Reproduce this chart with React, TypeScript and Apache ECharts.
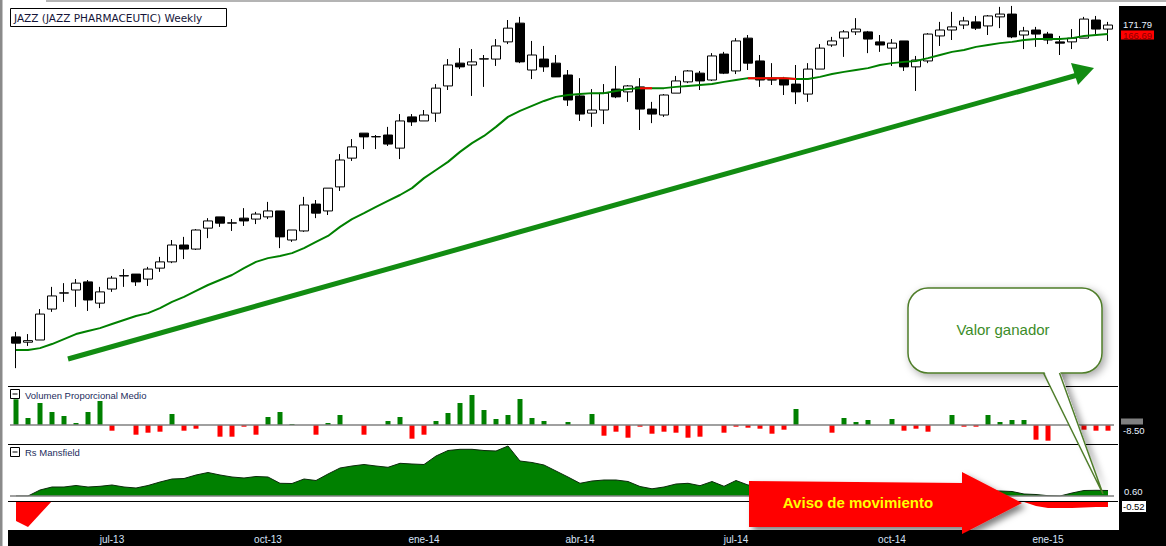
import { useEffect, useRef } from 'react';
import * as echarts from 'echarts';

// weekly bars, first one in the week of 6 May 2013
const firstWeek = new Date(2013, 4, 6);
const weeks: string[] = [];
for (let i = 0; i < 92; i++) {
    const d = new Date(firstWeek.getTime() + i * 7 * 86400000);
    weeks.push(d.toISOString().slice(0, 10));
}

const tickIndex = [8, 21, 34, 47, 60, 73, 86];
const tickLabels = ['jul-13', 'oct-13', 'ene-14', 'abr-14', 'jul-14', 'oct-14', 'ene-15'];

// [open, close, low, high]
const priceBars = [
    [72.0, 70.0, 62.0, 73.6], [70.3, 70.8, 69.1, 72.9], [71.0, 79.3, 71.0, 80.9], [80.9, 85.1, 80.0, 88.0],
    [86.0, 86.1, 83.2, 89.2], [87.0, 89.2, 81.6, 90.5], [89.6, 83.8, 80.3, 90.2], [82.8, 86.4, 81.2, 88.0],
    [87.3, 90.8, 86.4, 91.5], [91.5, 91.6, 88.0, 93.7], [92.1, 89.6, 88.3, 92.1], [90.5, 93.7, 88.3, 94.4],
    [94.0, 96.0, 92.8, 97.6], [96.0, 101.4, 95.6, 103.0], [101.4, 100.1, 96.9, 104.0], [100.1, 106.2, 99.8, 106.5],
    [106.8, 109.1, 103.6, 110.0], [110.4, 108.4, 107.2, 110.4], [108.4, 108.5, 105.9, 109.7], [110.0, 109.1, 107.5, 113.2],
    [109.7, 111.3, 108.1, 112.0], [110.4, 112.3, 109.7, 115.2], [112.3, 104.0, 100.4, 112.3], [103.0, 106.2, 102.4, 106.2],
    [105.9, 114.2, 105.6, 116.8], [114.5, 111.6, 110.0, 115.8], [112.3, 119.6, 111.0, 119.6], [120.0, 128.6, 118.7, 130.5],
    [129.2, 132.8, 128.3, 135.3], [137.2, 136.0, 132.1, 137.2], [136.0, 136.1, 132.1, 136.6], [136.6, 133.7, 133.1, 139.2],
    [132.4, 141.1, 128.9, 143.3], [142.4, 140.8, 139.5, 143.3], [141.1, 143.0, 141.1, 144.6], [143.6, 151.6, 140.8, 152.9],
    [152.3, 159.0, 151.0, 160.9], [159.6, 158.4, 157.7, 164.4], [159.0, 160.0, 149.1, 164.1], [160.9, 161.0, 152.0, 162.2],
    [160.9, 165.1, 158.7, 167.3], [166.4, 170.8, 165.7, 173.4], [172.4, 160.0, 159.6, 174.4], [157.4, 162.2, 154.5, 166.7],
    [160.9, 158.4, 156.8, 165.1], [159.6, 155.2, 155.2, 162.2], [155.8, 147.8, 145.9, 157.4], [149.1, 143.3, 141.1, 154.8],
    [143.6, 144.6, 139.2, 151.3], [144.6, 150.0, 140.1, 152.9], [151.3, 148.8, 148.4, 158.7], [150.4, 152.3, 147.2, 152.6],
    [152.0, 144.9, 138.2, 154.8], [144.9, 143.3, 140.4, 147.2], [143.0, 149.4, 142.4, 149.7], [150.0, 153.9, 150.0, 155.5],
    [153.6, 157.1, 153.2, 157.4], [156.4, 153.9, 151.0, 157.1], [154.2, 161.9, 153.9, 162.8], [162.5, 156.4, 156.1, 163.2],
    [157.1, 166.7, 156.1, 167.6], [167.6, 159.6, 157.4, 168.6], [160.3, 154.2, 152.0, 162.2], [154.2, 154.3, 152.6, 159.6],
    [154.5, 152.6, 149.4, 155.2], [152.9, 150.4, 146.5, 159.0], [149.7, 157.7, 147.2, 159.6], [157.7, 164.4, 157.7, 165.7],
    [165.4, 166.7, 164.8, 168.0], [167.6, 169.6, 161.6, 170.2], [169.6, 170.5, 168.6, 174.0], [169.6, 167.3, 162.8, 169.9],
    [166.4, 165.4, 163.2, 168.6], [164.4, 166.0, 158.7, 167.3], [166.7, 158.4, 157.1, 166.7], [158.4, 160.6, 150.7, 161.9],
    [160.3, 168.9, 159.6, 169.2], [168.3, 170.2, 165.1, 172.8], [170.2, 171.2, 167.0, 176.0], [171.8, 173.1, 170.5, 174.4],
    [172.8, 170.8, 170.2, 174.7], [171.5, 174.7, 168.6, 175.0], [174.4, 175.3, 170.8, 177.6], [175.3, 168.0, 167.6, 177.9],
    [168.6, 169.9, 164.1, 171.2], [170.2, 168.9, 164.8, 171.2], [168.9, 167.0, 165.7, 169.6], [166.4, 166.0, 162.2, 168.3],
    [166.4, 167.6, 164.1, 170.5], [167.6, 173.7, 167.6, 174.4], [173.4, 170.5, 168.9, 174.7], [170.5, 171.79, 166.7, 172.8],
];

// moving average drawn over the candles
const movingAvg = [
    67.8, 67.8, 68.4, 69.7, 71.3, 72.9, 73.9, 74.8, 76.1, 77.4, 78.7, 79.6, 81.2, 83.2, 84.8, 86.7,
    88.6, 90.2, 91.8, 94.0, 96.0, 97.2, 97.9, 98.8, 100.4, 102.4, 104.3, 107.2, 109.7, 111.6, 113.6, 115.5,
    117.4, 119.6, 122.8, 125.4, 128.0, 131.2, 134.0, 136.3, 139.2, 142.4, 144.3, 145.9, 147.5, 148.8, 149.4, 149.7,
    150.0, 150.0, 150.7, 151.3, 151.6, 151.6, 151.6, 152.0, 152.3, 152.6, 152.9, 153.6, 154.2, 154.8, 154.8, 154.8,
    154.8, 154.5, 154.5, 155.2, 156.1, 156.8, 157.4, 158.0, 159.0, 159.6, 160.0, 160.3, 161.2, 162.2, 163.2, 163.8,
    164.8, 165.4, 166.0, 166.4, 167.0, 167.3, 167.3, 167.3, 167.6, 168.3, 168.6, 168.9,
];
// weeks where the average is painted red
const maRedWeeks = [52, 53, 61, 62, 63, 64, 65];

const volumeRatio = [
    25.7, 7, 22, 13, 9, 2, 13, 24, -5.7, 0, -9.7, -7.7, -6.7, 11, -5.7, -3.7,
    0, -11.7, -11.7, -1.7, -9.7, 8, 13, 1, 0, -9.7, 2, 10, 0, -9.7, 0, 4,
    8, -13.7, -9.7, 4, 12, 22, 30, 15, 6, 10, 26, 7, 4, 0, 3, 0,
    11, -10.7, -6.7, -12.7, -1.7, -8.7, -6.7, -7.7, -12.7, -11.7, 0, -7.7, -1.7, -2.7, -3.7, -8.7,
    -4.7, 16, 0, 0, -7.7, 7, 3, 5, 0, 6, -5.7, -3.7, -6.7, 0, 10, -1.7,
    -1.7, 10, 3, 5, 5, -14.7, -15.7, 0, 0, -4.7, -5.7, -5.7,
];

const rsPositive = [
    0, 0, 0.6, 0.9, 0.9, 1.05, 0.9, 0.97, 1.1, 0.9, 0.8, 1.05, 1.4, 1.7, 1.75, 2.1,
    2.35, 2.1, 1.9, 1.8, 1.95, 1.9, 1.27, 1.25, 1.7, 1.55, 2.2, 2.8, 3.0, 3.15, 3.0, 2.87,
    3.27, 3.2, 3.15, 4.0, 4.55, 4.67, 4.67, 4.55, 4.5, 5.0, 3.5, 3.35, 3.1, 2.5, 1.9, 1.27,
    1.5, 1.6, 1.6, 1.45, 0.95, 0.72, 0.9, 1.2, 1.27, 1.03, 1.45, 0.97, 1.55, 1.1, 1.0, 0.9,
    0.8, 0.9, 1.0, 1.1, 1.0, 0.9, 0.8, 0.8, 0.9, 0.8, 0.7, 0.7, 0.6, 0.6, 0.5, 0.5,
    0.5, 0.5, 0.5, 0.45, 0.2, 0.15, 0.03, 0, 0.3, 0.55, 0.57, 0.55,
];

const rsNegative = [
    -2.0, -2.6, -1.3, 0, 0, 0, 0, 0, 0, 0, 0, 0, 0, 0, 0, 0,
    0, 0, 0, 0, 0, 0, 0, 0, 0, 0, 0, 0, 0, 0, 0, 0,
    0, 0, 0, 0, 0, 0, 0, 0, 0, 0, 0, 0, 0, 0, 0, 0,
    0, 0, 0, 0, 0, 0, 0, 0, 0, 0, 0, 0, 0, 0, 0, 0,
    0, 0, 0, 0, 0, 0, 0, 0, 0, 0, 0, 0, 0, 0, 0, 0,
    0, 0, 0, 0, -0.1, -0.5, -0.7, -0.7, -0.7, -0.65, -0.6, -0.6,
];

const SANS = 'Liberation Sans';

function buildOption(): echarts.EChartsOption {
    const grids = [
        { left: 10, top: 5, width: 1104, height: 380 },
        { left: 10, top: 387, width: 1104, height: 56 },
        { left: 10, top: 445, width: 1104, height: 51 },
        { left: 10, top: 501, width: 1104, height: 29 },
    ];

    const xAxes = grids.map((_, i) => ({
        type: 'category' as const,
        gridIndex: i,
        data: weeks,
        boundaryGap: true,
        axisLine: { show: false },
        axisTick: { show: false },
        splitLine: { show: false },
        axisLabel: i === 3
            ? {
                show: true,
                interval: (idx: number) => tickIndex.includes(idx),
                formatter: (_v: string, idx: number) => tickLabels[tickIndex.indexOf(idx)] ?? '',
                color: '#d8e4f8',
                fontSize: 10,
                fontFamily: SANS,
                margin: 4,
            }
            : { show: false },
    }));

    const yRanges = [[56.6, 178.2], [-18, 38], [0, 5.1], [-2.9, 0]];
    const yAxes = yRanges.map(([min, max], i) => ({
        type: 'value' as const,
        gridIndex: i,
        min,
        max,
        show: false,
        splitLine: { show: false },
    }));

    const sep = (y: number) => ({
        type: 'line',
        shape: { x1: 8, y1: y + 0.5, x2: 1118, y2: y + 0.5 },
        style: { stroke: '#000', lineWidth: 1 },
        z: 20,
    });

    const minusBox = (x: number, y: number) => [
        { type: 'rect', shape: { x: x + 0.5, y: y + 0.5, width: 9, height: 9 }, style: { fill: '#fff', stroke: '#000', lineWidth: 1 }, z: 20 },
        { type: 'line', shape: { x1: x + 2.5, y1: y + 5, x2: x + 7.5, y2: y + 5 }, style: { stroke: '#000', lineWidth: 1 }, z: 21 },
    ];

    const text = (x: number, y: number, s: string, fill: string, font: string, z = 60, extra: any = {}) => ({
        type: 'text',
        x,
        y,
        style: { text: s, fill, font, verticalAlign: 'middle', ...extra },
        z,
    });

    const graphics: any[] = [
        // window frame and axis strips
        { type: 'rect', shape: { x: 0, y: 0, width: 2.5, height: 546 }, style: { fill: '#8a8a8a' }, z: -10 },
        { type: 'rect', shape: { x: 46, y: 0, width: 1120, height: 2 }, style: { fill: '#b4b4b4' }, z: -10 },
        { type: 'rect', shape: { x: 1119, y: 6, width: 47, height: 540 }, style: { fill: '#000' }, z: -10 },
        { type: 'rect', shape: { x: 8, y: 530, width: 1158, height: 16 }, style: { fill: '#000' }, z: -10 },
        sep(386), sep(444), sep(501),

        // title box
        { type: 'rect', shape: { x: 10.5, y: 8.5, width: 216, height: 18 }, style: { fill: '#fff', stroke: '#000', lineWidth: 1 }, z: 20 },
        text(14, 18, 'JAZZ (JAZZ PHARMACEUTIC) Weekly', '#141438', '10.5px DejaVu Sans'),

        // panel titles
        ...minusBox(10, 389),
        text(25, 395, 'Volumen Proporcional Medio', '#1c2c5c', `9.5px ${SANS}`),
        ...minusBox(10, 447),
        text(25, 452, 'Rs Mansfield', '#1c2c5c', `9.5px ${SANS}`),

        // right axis values
        text(1123, 24.5, '171.79', '#e8f2ff', `9.5px ${SANS}`),
        { type: 'rect', shape: { x: 1121, y: 30.5, width: 33, height: 9 }, style: { fill: '#ff0000' }, z: 55 },
        text(1123, 35, '166.69', '#8a0000', `9.5px ${SANS}`),
        { type: 'rect', shape: { x: 1121, y: 418.5, width: 22, height: 6 }, style: { fill: '#808080' }, z: 55 },
        text(1123, 430, '-8.50', '#e8f2ff', `9.5px ${SANS}`),
        text(1124, 491, '0.60', '#e8f2ff', `9.5px ${SANS}`),
        { type: 'rect', shape: { x: 1121.5, y: 500.5, width: 25, height: 12 }, style: { fill: '#fff', stroke: '#000', lineWidth: 1 }, z: 55 },
        text(1123, 506.5, '-0.52', '#000', `9.5px ${SANS}`),

        // green trend arrow
        {
            type: 'line',
            shape: { x1: 68, y1: 359, x2: 1081, y2: 74 },
            style: { stroke: '#128c12', lineWidth: 5 },
            z: 40,
        },
        {
            type: 'polygon',
            shape: { points: [[1071, 63], [1094, 68], [1078, 85]] },
            style: { fill: '#128c12' },
            z: 41,
        },

        // callout "Valor ganador"
        {
            type: 'rect',
            shape: { x: 908, y: 288, width: 194, height: 85, r: 20 },
            style: { fill: '#fff', stroke: '#4f7d2a', lineWidth: 1.5, shadowBlur: 8, shadowColor: 'rgba(0,0,0,0.35)', shadowOffsetX: 3, shadowOffsetY: 3 },
            z: 70,
        },
        {
            type: 'polygon',
            shape: { points: [[1043, 371], [1060, 371], [1103, 494]] },
            style: { fill: '#fff', shadowBlur: 6, shadowColor: 'rgba(0,0,0,0.35)', shadowOffsetX: 4, shadowOffsetY: 0 },
            z: 69,
        },
        {
            type: 'polygon',
            shape: { points: [[1043.5, 370], [1059.5, 370], [1103, 494]] },
            style: { fill: '#fff' },
            z: 71,
        },
        {
            type: 'polyline',
            shape: { points: [[1043.5, 373], [1103, 494], [1059.5, 373]] },
            style: { stroke: '#4f7d2a', lineWidth: 1.5, fill: 'none' },
            z: 72,
        },
        text(1003, 329, 'Valor ganador', '#3c8c28', `15px ${SANS}`, 75, { align: 'center' }),

        // red arrow "Aviso de movimiento"
        {
            type: 'polygon',
            shape: { points: [[749, 481], [962, 483], [962, 472], [1022, 503], [962, 534], [962, 527], [749, 527]] },
            style: { fill: '#ff0000', shadowBlur: 6, shadowColor: 'rgba(0,0,0,0.5)', shadowOffsetX: 4, shadowOffsetY: 4 },
            z: 80,
        },
        text(858, 502, 'Aviso de movimiento', '#ffff00', `bold 15px ${SANS}`, 81, { align: 'center' }),
    ];

    return {
        animation: false,
        backgroundColor: '#fff',
        grid: grids,
        xAxis: xAxes,
        yAxis: yAxes,
        graphic: { elements: graphics },
        series: [
            {
                type: 'candlestick',
                xAxisIndex: 0,
                yAxisIndex: 0,
                data: priceBars,
                barWidth: 10,
                itemStyle: {
                    color: '#ffffff',
                    color0: '#000000',
                    borderColor: '#000000',
                    borderColor0: '#000000',
                    borderWidth: 1,
                },
                z: 3,
            },
            {
                type: 'line',
                xAxisIndex: 0,
                yAxisIndex: 0,
                data: movingAvg,
                symbol: 'none',
                lineStyle: { color: '#008000', width: 2 },
                z: 5,
            },
            {
                type: 'line',
                xAxisIndex: 0,
                yAxisIndex: 0,
                data: movingAvg.map((v, i) => (maRedWeeks.includes(i) ? v : null)),
                symbol: 'none',
                connectNulls: false,
                lineStyle: { color: '#ff0000', width: 2 },
                z: 6,
            },
            {
                type: 'bar',
                xAxisIndex: 1,
                yAxisIndex: 1,
                barWidth: 5,
                data: volumeRatio.map((v) => ({
                    value: v,
                    itemStyle: { color: v >= 0 ? '#008000' : '#ff0000' },
                })),
                markLine: {
                    silent: true,
                    symbol: 'none',
                    label: { show: false },
                    lineStyle: { color: '#808080', type: 'solid', width: 1.5 },
                    data: [{ yAxis: 0 }],
                },
            },
            {
                type: 'line',
                xAxisIndex: 2,
                yAxisIndex: 2,
                data: rsPositive,
                symbol: 'none',
                lineStyle: { color: '#0b2a0b', width: 1 },
                areaStyle: { color: '#008000', opacity: 1 },
                markLine: {
                    silent: true,
                    symbol: 'none',
                    label: { show: false },
                    lineStyle: { color: '#808080', type: 'solid', width: 1.5 },
                    data: [{ yAxis: 0 }],
                },
            },
            {
                type: 'line',
                xAxisIndex: 3,
                yAxisIndex: 3,
                data: rsNegative,
                symbol: 'none',
                lineStyle: { width: 0 },
                areaStyle: { color: '#ff0000', opacity: 1 },
            },
        ],
    };
}

export default function App() {
    const chartRef = useRef<HTMLDivElement>(null);

    useEffect(() => {
        document.body.style.margin = '0';
        if (!chartRef.current) return;
        const chart = echarts.init(chartRef.current, undefined, { renderer: 'svg' });
        chart.setOption(buildOption());
        return () => {
            chart.dispose();
        };
    }, []);

    return <div ref={chartRef} style={{ width: 1166, height: 546 }} />;
}
